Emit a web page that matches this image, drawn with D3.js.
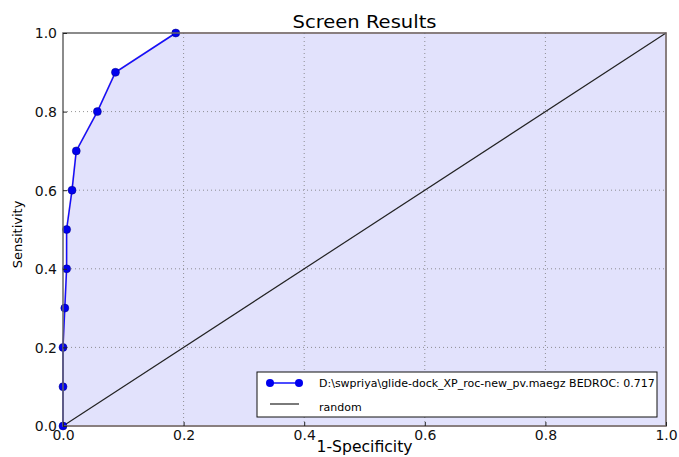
<!DOCTYPE html>
<html><head><meta charset="utf-8">
<script src="https://cdn.jsdelivr.net/npm/d3@7"></script>
<style>body{margin:0;background:#fff;} text{font-family:"DejaVu Sans",sans-serif;}</style>
</head><body>
<svg id="c" width="679" height="457"></svg>
<script>
const fpr = [0, 0, 0, 0.003, 0.006, 0.006, 0.015, 0.022, 0.057, 0.087, 0.187, 1.0];
const tpr = [0, 0.1, 0.2, 0.3, 0.4, 0.5, 0.6, 0.7, 0.8, 0.9, 1.0, 1.0];
const randomX = [0, 1];
const randomY = [0, 1];
const ticks = [0, 0.2, 0.4, 0.6, 0.8, 1.0];
const seriesLabel = "D:\\swpriya\\glide-dock_XP_roc-new_pv.maegz BEDROC: 0.717";

const svg = d3.select("#c");
const L = 63, R = 666, T = 33, B = 426;
const x = d3.scaleLinear().domain([0,1]).range([L,R]);
const y = d3.scaleLinear().domain([0,1]).range([B,T]);
const pts = fpr.map((v,i)=>[v,tpr[i]]);

// fill under curve
const area = d3.area().x(d=>x(d[0])).y0(y(0)).y1(d=>y(d[1]));
svg.append("path").datum(pts).attr("d", area)
  .attr("fill","#e2e2fc").attr("stroke","#f4cccc").attr("stroke-width",2);

// grid
const g = svg.append("g");
ticks.slice(1,-1).forEach(t=>{
  g.append("line").attr("x1",x(t)).attr("x2",x(t)).attr("y1",T).attr("y2",B)
    .attr("stroke","#777").attr("stroke-width",0.8).attr("stroke-dasharray","1,3");
  g.append("line").attr("y1",y(t)).attr("y2",y(t)).attr("x1",L).attr("x2",R)
    .attr("stroke","#777").attr("stroke-width",0.8).attr("stroke-dasharray","1,3");
});

// random line
svg.append("line").attr("x1",x(randomX[0])).attr("y1",y(randomY[0]))
  .attr("x2",x(randomX[1])).attr("y2",y(randomY[1]))
  .attr("stroke","#222").attr("stroke-width",1.2);

// ROC line
const line = d3.line().x(d=>x(d[0])).y(d=>y(d[1]));
svg.append("path").datum(pts.slice(0,-1)).attr("d",line).attr("fill","none")
  .attr("stroke","#1010ff").attr("stroke-width",1.5);
svg.selectAll(".pt").data(pts.slice(0,-1)).join("circle")
  .attr("cx",d=>x(d[0])).attr("cy",d=>y(d[1])).attr("r",4)
  .attr("fill","#0000ee").attr("stroke","#000080").attr("stroke-width",0.5);

// frame
svg.append("rect").attr("x",L).attr("y",T).attr("width",R-L).attr("height",B-T)
  .attr("fill","none").attr("stroke","#666").attr("stroke-width",1.5);

// axes
const xa = svg.append("g").attr("transform",`translate(0,${B})`)
  .call(d3.axisBottom(x).tickValues(ticks).tickFormat(d3.format(".1f")).tickSizeInner(-4).tickSizeOuter(0).tickPadding(4));
const ya = svg.append("g").attr("transform",`translate(${L},0)`)
  .call(d3.axisLeft(y).tickValues(ticks).tickFormat(d3.format(".1f")).tickSizeInner(-4).tickSizeOuter(0).tickPadding(6));
[xa,ya].forEach(a=>{
  a.select(".domain").remove();
  a.selectAll("line").attr("stroke","#222");
  a.selectAll("text").attr("font-size",14).attr("fill","#111").style("font-family","DejaVu Sans");
});
ya.selectAll("text").attr("dy","0.35em");
xa.selectAll("text").attr("dy","0.72em");

// labels
svg.append("text").attr("x",(L+R)/2).attr("y",28).attr("text-anchor","middle")
  .attr("font-size",17).attr("textLength",144).attr("lengthAdjust","spacingAndGlyphs").text("Screen Results");
svg.append("text").attr("x",(L+R)/2).attr("y",452).attr("text-anchor","middle")
  .attr("font-size",15).attr("textLength",96).attr("lengthAdjust","spacingAndGlyphs").text("1-Specificity");
svg.append("text").attr("transform",`translate(22,${(T+B)/2+5}) rotate(-90)`)
  .attr("text-anchor","middle").attr("font-size",13).text("Sensitivity");

// legend
const lg = svg.append("g");
lg.append("rect").attr("x",257).attr("y",372).attr("width",400).attr("height",45)
  .attr("fill","#fff").attr("stroke","#111").attr("stroke-width",1);
lg.append("line").attr("x1",270).attr("x2",299).attr("y1",383).attr("y2",383)
  .attr("stroke","#1010ff").attr("stroke-width",1.5);
[270,299].forEach(cx=>lg.append("circle").attr("cx",cx).attr("cy",383).attr("r",4).attr("fill","#0000ee"));
lg.append("text").attr("x",319).attr("y",387).attr("font-size",11).text(seriesLabel);
lg.append("line").attr("x1",270).attr("x2",299).attr("y1",404).attr("y2",404)
  .attr("stroke","#222").attr("stroke-width",1.2);
lg.append("text").attr("x",319).attr("y",411).attr("font-size",11).text("random");
</script>
</body></html>
